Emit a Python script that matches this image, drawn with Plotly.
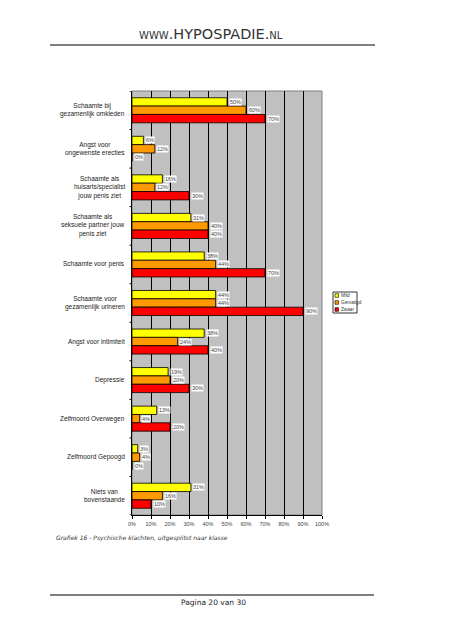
import plotly.graph_objects as go

categories = [
    "Schaamte bij<br>gezamenlijk omkleden",
    "Angst voor<br>ongewenste erecties",
    "Schaamte als<br>huisarts/specialist<br>jouw penis ziet",
    "Schaamte als<br>seksuele partner jouw<br>penis ziet",
    "Schaamte voor penis",
    "Schaamte voor<br>gezamenlijk urineren",
    "Angst voor intimiteit",
    "Depressie",
    "Zelfmoord Overwegen",
    "Zelfmoord Gepoogd",
    "Niets van<br>bovenstaande",
]
mild = [50, 6, 16, 31, 38, 44, 38, 19, 13, 3, 31]
gematigd = [60, 12, 12, 40, 44, 44, 24, 20, 4, 4, 16]
zwaar = [70, 0, 30, 40, 70, 90, 40, 30, 20, 0, 10]
series_names = ["Mild", "Gematigd", "Zwaar"]
series_values = [mild, gematigd, zwaar]
series_colors = ["#FFFF00", "#FF9900", "#FF0000"]
x_ticks = list(range(0, 101, 10))
x_ticklabels = [f"{t}%" for t in x_ticks]

OFF = 8  # page body margin in the browser
W, H = 452 - OFF, 640 - OFF
L, R, T, B = 132, 322, 91, 515  # plot area in page px


def px(x):
    return (x - L) / (R - L)


def py(y):
    return (B - y) / (B - T)


BARGAP = 0.35
fig = go.Figure()
ypos = list(range(len(categories)))
for name, vals, col in zip(series_names, series_values, series_colors):
    fig.add_trace(go.Bar(
        x=vals, y=ypos, orientation="h", name=name,
        marker=dict(color=col, line=dict(color="black", width=0.8)),
        showlegend=False,
    ))

annotations = []
bw = (1 - BARGAP) / 3
for k, vals in enumerate(series_values):
    off = (k - 1) * bw
    for i, v in enumerate(vals):
        annotations.append(dict(
            x=v, y=i + off, xref="x", yref="y", text=f"{v}%",
            showarrow=False, xanchor="left", yanchor="middle", xshift=1.5,
            bgcolor="white", borderpad=0,
            font=dict(size=5.5, color="#444", family="Liberation Sans"),
        ))

for i, c in enumerate(categories):
    annotations.append(dict(
        x=px(127), y=i, xref="paper", yref="y", text=c, showarrow=False,
        xanchor="right", yanchor="middle", align="center",
        font=dict(size=6.5, color="#222", family="Liberation Sans"),
    ))

# legend (manual, small)
shapes = [
    dict(type="rect", xref="paper", yref="paper", x0=px(333), x1=px(357),
         y0=py(313), y1=py(292), line=dict(color="black", width=0.8),
         fillcolor="white", layer="above"),
]
leg_rows = [295.5, 302.5, 309.5]
for name, col, yy in zip(series_names, series_colors, leg_rows):
    shapes.append(dict(type="rect", xref="paper", yref="paper",
                       x0=px(335), x1=px(338.5), y0=py(yy + 1.8), y1=py(yy - 1.8),
                       fillcolor=col, line=dict(color="black", width=0.6), layer="above"))
    annotations.append(dict(x=px(338.8), y=py(yy), xref="paper", yref="paper", text=name,
                            showarrow=False, xanchor="left", yanchor="middle",
                            font=dict(size=4.7, color="#333", family="Liberation Sans")))

# plot frame
shapes.append(dict(type="rect", xref="paper", yref="paper", x0=0, x1=1, y0=0, y1=1,
                   line=dict(color="#808080", width=1), layer="below"))

# page decorations
shapes.append(dict(type="line", xref="paper", yref="paper", x0=px(50), x1=px(375),
                   y0=py(45), y1=py(45), line=dict(color="black", width=1.2)))
shapes.append(dict(type="line", xref="paper", yref="paper", x0=px(50), x1=px(374),
                   y0=py(595), y1=py(595), line=dict(color="black", width=1.2)))

annotations.append(dict(x=px(211), y=py(34), xref="paper", yref="paper",
                        text="www.HYPOSPADIE.nl", showarrow=False,
                        xanchor="center", yanchor="middle",
                        font=dict(size=14.5, color="#333", family="DejaVu Sans", variant="small-caps")))
annotations.append(dict(x=px(54), y=py(538), xref="paper", yref="paper",
                        text="<i>Grafiek 16 - Psychische klachten, uitgesplitst naar klasse</i>",
                        showarrow=False, xanchor="left", yanchor="middle",
                        font=dict(size=6.0, color="#333", family="DejaVu Sans")))
annotations.append(dict(x=px(213), y=py(602), xref="paper", yref="paper",
                        text="Pagina 20 van 30", showarrow=False,
                        xanchor="center", yanchor="middle",
                        font=dict(size=7.5, color="#222", family="DejaVu Sans")))

fig.update_layout(
    width=W, height=H,
    margin=dict(l=L - OFF, r=W - (R - OFF), t=T - OFF, b=H - (B - OFF), pad=0),
    paper_bgcolor="white", plot_bgcolor="#C0C0C0",
    barmode="group", bargap=BARGAP, bargroupgap=0,
    font=dict(family="Liberation Sans", size=6, color="#333"),
    annotations=annotations, shapes=shapes,
    showlegend=False,
    xaxis=dict(range=[0, 100], tickvals=x_ticks, ticktext=x_ticklabels,
               showgrid=True, gridcolor="black", gridwidth=1,
               showline=True, linecolor="black", linewidth=1,
               ticks="outside", ticklen=3, tickcolor="black",
               tickfont=dict(size=5.5, color="#444"), zeroline=False, fixedrange=True),
    yaxis=dict(range=[len(categories) - 0.5, -0.5], tickvals=ypos,
               showticklabels=False, showgrid=False, zeroline=False,
               showline=True, linecolor="black", linewidth=1,
               ticks="", fixedrange=True),
)

# category boundary tick marks on the y axis
for i in range(len(categories) + 1):
    fig.add_shape(type="line", xref="paper", yref="y", x0=px(129.5), x1=0,
                  y0=i - 0.5, y1=i - 0.5, line=dict(color="black", width=1))

fig.write_html("out.html")
